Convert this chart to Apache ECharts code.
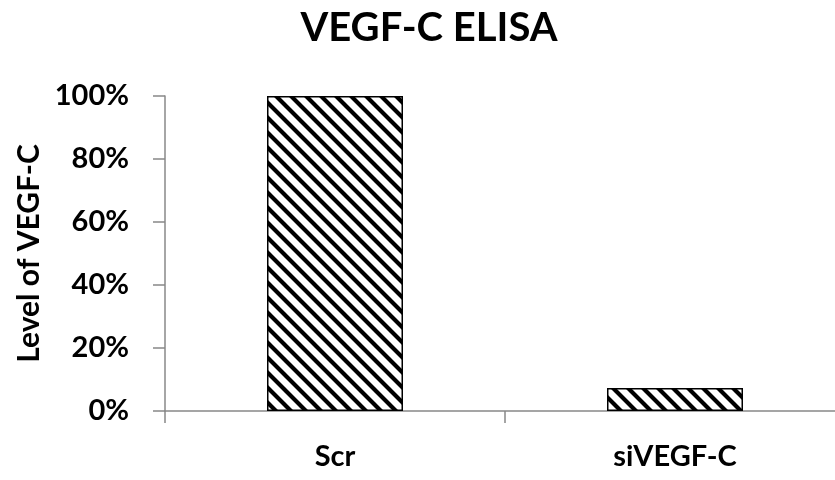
<!DOCTYPE html>
<html><head><meta charset="utf-8">
<script src="https://cdn.jsdelivr.net/npm/echarts@6/dist/echarts.min.js"></script>
<style>html,body{margin:0;padding:0;background:#fff;overflow:hidden}#c{width:845px;height:480px}</style>
</head><body><div id="c"></div>
<script>
const categories = ['Scr', 'siVEGF-C'];
const values = [100, 7.3];
const yTicks = [0, 20, 40, 60, 80, 100];

function hatch() {
  const s = 15, c = document.createElement('canvas');
  c.width = s; c.height = s;
  const g = c.getContext('2d');
  g.fillStyle = '#fff'; g.fillRect(0, 0, s, s);
  g.strokeStyle = '#000'; g.lineWidth = 4.2;
  g.beginPath();
  g.moveTo(-s, -s); g.lineTo(2 * s, 2 * s);
  g.moveTo(-s, 0); g.lineTo(s, 2 * s);
  g.moveTo(0, -s); g.lineTo(2 * s, s);
  g.stroke();
  return c;
}
const font = 'Lato, "Open Sans", sans-serif';
const chart = echarts.init(document.getElementById('c'), null, {renderer: 'canvas'});
chart.setOption({
  animation: false,
  title: {text: 'VEGF-C ELISA', left: 424, textAlign: 'center', top: 3,
    textStyle: {fontFamily: font, fontWeight: 'bold', fontSize: 40, color: '#000'}},
  grid: {left: 165, right: 0, top: 96, height: 315, containLabel: false},
  xAxis: {type: 'category', data: categories,
    axisLine: {lineStyle: {color: '#888', width: 1.5}},
    axisTick: {show: true, length: 12, lineStyle: {color: '#888', width: 1.5}},
    axisLabel: {fontFamily: font, fontWeight: 'bold', fontSize: 29, color: '#000', margin: 31}},
  yAxis: {type: 'value', min: yTicks[0], max: yTicks[yTicks.length - 1], interval: 20,
    name: 'Level of VEGF-C', nameLocation: 'middle', nameGap: 120,
    nameTextStyle: {fontFamily: font, fontWeight: 'bold', fontSize: 30, color: '#000'},
    axisLine: {show: true, lineStyle: {color: '#888', width: 1.5}},
    axisTick: {show: true, length: 12, lineStyle: {color: '#888', width: 1.5}},
    splitLine: {show: false},
    axisLabel: {formatter: v => v + '%', fontFamily: font, fontWeight: 'bold', fontSize: 29, color: '#000', margin: 36}},
  series: [{type: 'bar', data: values, barWidth: '40%',
    itemStyle: {color: {image: hatch(), repeat: 'repeat'}, borderColor: '#000', borderWidth: 1.5}}]
});
</script></body></html>
